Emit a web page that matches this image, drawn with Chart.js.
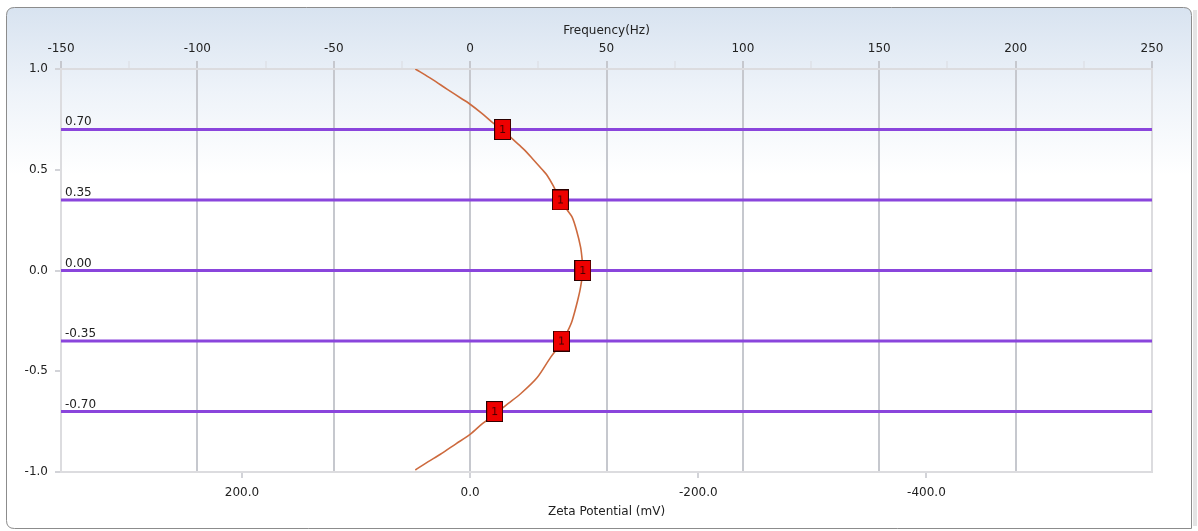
<!DOCTYPE html>
<html>
<head>
<meta charset="utf-8">
<script src="https://cdn.jsdelivr.net/npm/chart.js@4/dist/chart.umd.min.js"></script>
<style>
html,body{margin:0;padding:0;background:#fff;}
canvas{display:block;}
</style>
</head>
<body>
<canvas id="c" width="1198" height="531"></canvas>
<script>
// ---- data ----
const freqRange = [-150, 250];
const freqTickStep = 25;
const zetaTicks = [200, 0, -200, -400];
const zetaRange = [-597.7, 358.6];
const yRange = [-1.0, 1.0];
const levels = [0.70, 0.35, 0.00, -0.35, -0.70];
const levelLabels = ['0.70', '0.35', '0.00', '-0.35', '-0.70'];
const markerFreq = [11.9, 33.1, 41.3, 33.5, 9.0];
const markerLabel = '1';
const curveY = [1.00, 0.95, 0.90, 0.85, 0.83, 0.78, 0.73, 0.70, 0.647, 0.60, 0.55, 0.50, 0.473, 0.42, 0.348, 0.30, 0.265, 0.20, 0.116, 0.05, 0.00,
  -0.083, -0.15, -0.249, -0.30, -0.36, -0.431, -0.531, -0.613, -0.66, -0.713, -0.76, -0.812, -0.86, -0.912, -0.95, -0.99];
const curveFreq = [-20.1, -14.0, -8.5, -2.8, -0.5, 4.3, 8.6, 11.9, 16.0, 19.8, 23.2, 26.5, 28.2, 30.5, 33.1, 35.6, 37.4, 39.0, 40.5, 41.1, 41.3,
  40.5, 39.4, 37.4, 35.8, 33.5, 29.5, 24.6, 18.4, 14.0, 9.0, 4.5, 0.1, -5.2, -10.9, -15.5, -20.1];

// ---- styles ----
const FONT = "'DejaVu Sans',sans-serif";
Chart.defaults.font.family = FONT;
Chart.defaults.font.size = 12;
Chart.defaults.color = '#222';

const markerImg = document.createElement('canvas');
markerImg.width = 17; markerImg.height = 21;
(function(){
  const g = markerImg.getContext('2d');
  g.fillStyle = '#ee0000';
  g.fillRect(0, 0, 17, 21);
  g.strokeStyle = '#2a0000';
  g.lineWidth = 1;
  g.strokeRect(0.5, 0.5, 16, 20);
  g.fillStyle = '#4a0000';
  g.font = "11px " + FONT;
  g.textAlign = 'center';
  g.textBaseline = 'middle';
  g.fillText(markerLabel, 8.5, 11);
})();

const levelDatasets = levels.map(v => ({
  type: 'scatter',
  data: [{x: freqRange[0], y: v}, {x: freqRange[1], y: v}],
  showLine: true,
  borderColor: '#8a45dc',
  borderWidth: 3,
  pointRadius: 0,
  xAxisID: 'x', yAxisID: 'y',
  order: 3
}));

const bgPlugin = {
  id: 'bg',
  beforeDraw(chart) {
    const c = chart.ctx;
    c.save();
    c.fillStyle = '#ffffff';
    c.fillRect(0, 0, chart.width, chart.height);
    const x0 = 6.5, y0 = 7.5, x1 = 1191.5, y1 = 528.5, r = 8;
    c.beginPath();
    c.moveTo(x0 + r, y0);
    c.lineTo(x1 - r, y0); c.quadraticCurveTo(x1, y0, x1, y0 + r);
    c.lineTo(x1, y1); c.lineTo(x0 + r, y1); c.quadraticCurveTo(x0, y1, x0, y1 - r);
    c.lineTo(x0, y0 + r); c.quadraticCurveTo(x0, y0, x0 + r, y0);
    c.closePath();
    const g = c.createLinearGradient(0, 8, 0, 175);
    g.addColorStop(0, '#d8e3f0');
    g.addColorStop(0.5, '#eef3f9');
    g.addColorStop(1, '#ffffff');
    c.fillStyle = g;
    c.fill();
    c.strokeStyle = '#8c8c8c';
    c.lineWidth = 1;
    c.stroke();
    c.fillStyle = '#e4e4e4';
    c.fillRect(1193, 10, 4, 516);
    c.restore();
  },
  beforeDatasetsDraw(chart) {
    const a = chart.chartArea, c = chart.ctx;
    c.save();
    c.strokeStyle = '#dcdcdf';
    c.lineWidth = 2;
    c.beginPath();
    c.moveTo(a.right, a.top); c.lineTo(a.right, a.bottom);
    c.stroke();
    c.restore();
  },
  afterDatasetsDraw(chart) {
    const a = chart.chartArea, c = chart.ctx, ys = chart.scales.y;
    c.save();
    c.fillStyle = '#222';
    c.font = "12px " + FONT;
    c.textAlign = 'left';
    c.textBaseline = 'alphabetic';
    levels.forEach((v, i) => {
      c.fillText(levelLabels[i], a.left + 4, ys.getPixelForValue(v) - 4);
    });
    c.restore();
  }
};

new Chart(document.getElementById('c'), {
  type: 'scatter',
  data: {
    datasets: [
      {
        data: markerFreq.map((f, i) => ({x: f, y: levels[i]})),
        pointStyle: markerImg,
        pointRadius: 10,
        xAxisID: 'x', yAxisID: 'y',
        order: 0
      },
      {
        data: curveFreq.map((f, i) => ({x: f, y: curveY[i]})),
        showLine: true,
        borderColor: '#cd6a3e',
        borderWidth: 1.6,
        pointRadius: 0,
        tension: 0.3,
        xAxisID: 'x', yAxisID: 'y',
        order: 1
      },
      ...levelDatasets
    ]
  },
  options: {
    responsive: false,
    animation: false,
    events: [],
    layout: {padding: {left: 0, right: 46, top: 0, bottom: 0}},
    plugins: {legend: {display: false}, tooltip: {enabled: false}},
    scales: {
      x: {
        type: 'linear', position: 'top',
        min: freqRange[0], max: freqRange[1],
        ticks: {
          stepSize: freqTickStep, padding: 5, maxRotation: 0, autoSkip: false,
          color: '#222',
          callback: v => (v % 50 === 0 ? String(v) : '')
        },
        grid: {
          tickLength: 8,
          lineWidth: 2,
          color: ctx => {
            const v = ctx.tick ? ctx.tick.value : 0;
            if (v === freqRange[0] || v === freqRange[1]) return 'rgba(0,0,0,0)';
            return v % 50 === 0 ? '#c6c8ce' : 'rgba(0,0,0,0)';
          },
          tickColor: ctx => (ctx.tick && ctx.tick.value % 50 === 0 ? '#c6c8ce' : '#dadbe0'),
          tickWidth: ctx => (ctx.tick && ctx.tick.value % 50 === 0 ? 2 : 1)
        },
        border: {display: true, color: '#dcdcdf', width: 2},
        title: {display: true, text: 'Frequency(Hz)', color: '#222', padding: {top: 24, bottom: 0}},
        afterFit: s => { s.height = 69; }
      },
      x2: {
        type: 'linear', position: 'bottom', reverse: true,
        min: zetaRange[0], max: zetaRange[1],
        afterBuildTicks: s => { s.ticks = zetaTicks.map(v => ({value: v})); },
        ticks: {padding: 8, color: '#222', callback: v => Number(v).toFixed(1), autoSkip: false, maxRotation: 0},
        grid: {drawOnChartArea: false, tickLength: 6, color: '#d2d3d8', lineWidth: 2},
        border: {display: true, color: '#dcdcdf', width: 2},
        title: {display: true, text: 'Zeta Potential (mV)', color: '#222', padding: {top: 0, bottom: 12}},
        afterFit: s => { s.height = 59; }
      },
      y: {
        type: 'linear', position: 'left',
        min: yRange[0], max: yRange[1],
        ticks: {stepSize: 0.5, padding: 7, color: '#222', callback: v => Number(v).toFixed(1)},
        grid: {drawOnChartArea: false, tickLength: 6, color: '#d2d3d8', lineWidth: 2},
        border: {display: true, color: '#dcdcdf', width: 2},
        afterFit: s => { s.width = 61; }
      }
    }
  },
  plugins: [bgPlugin]
});
</script>
</body>
</html>
